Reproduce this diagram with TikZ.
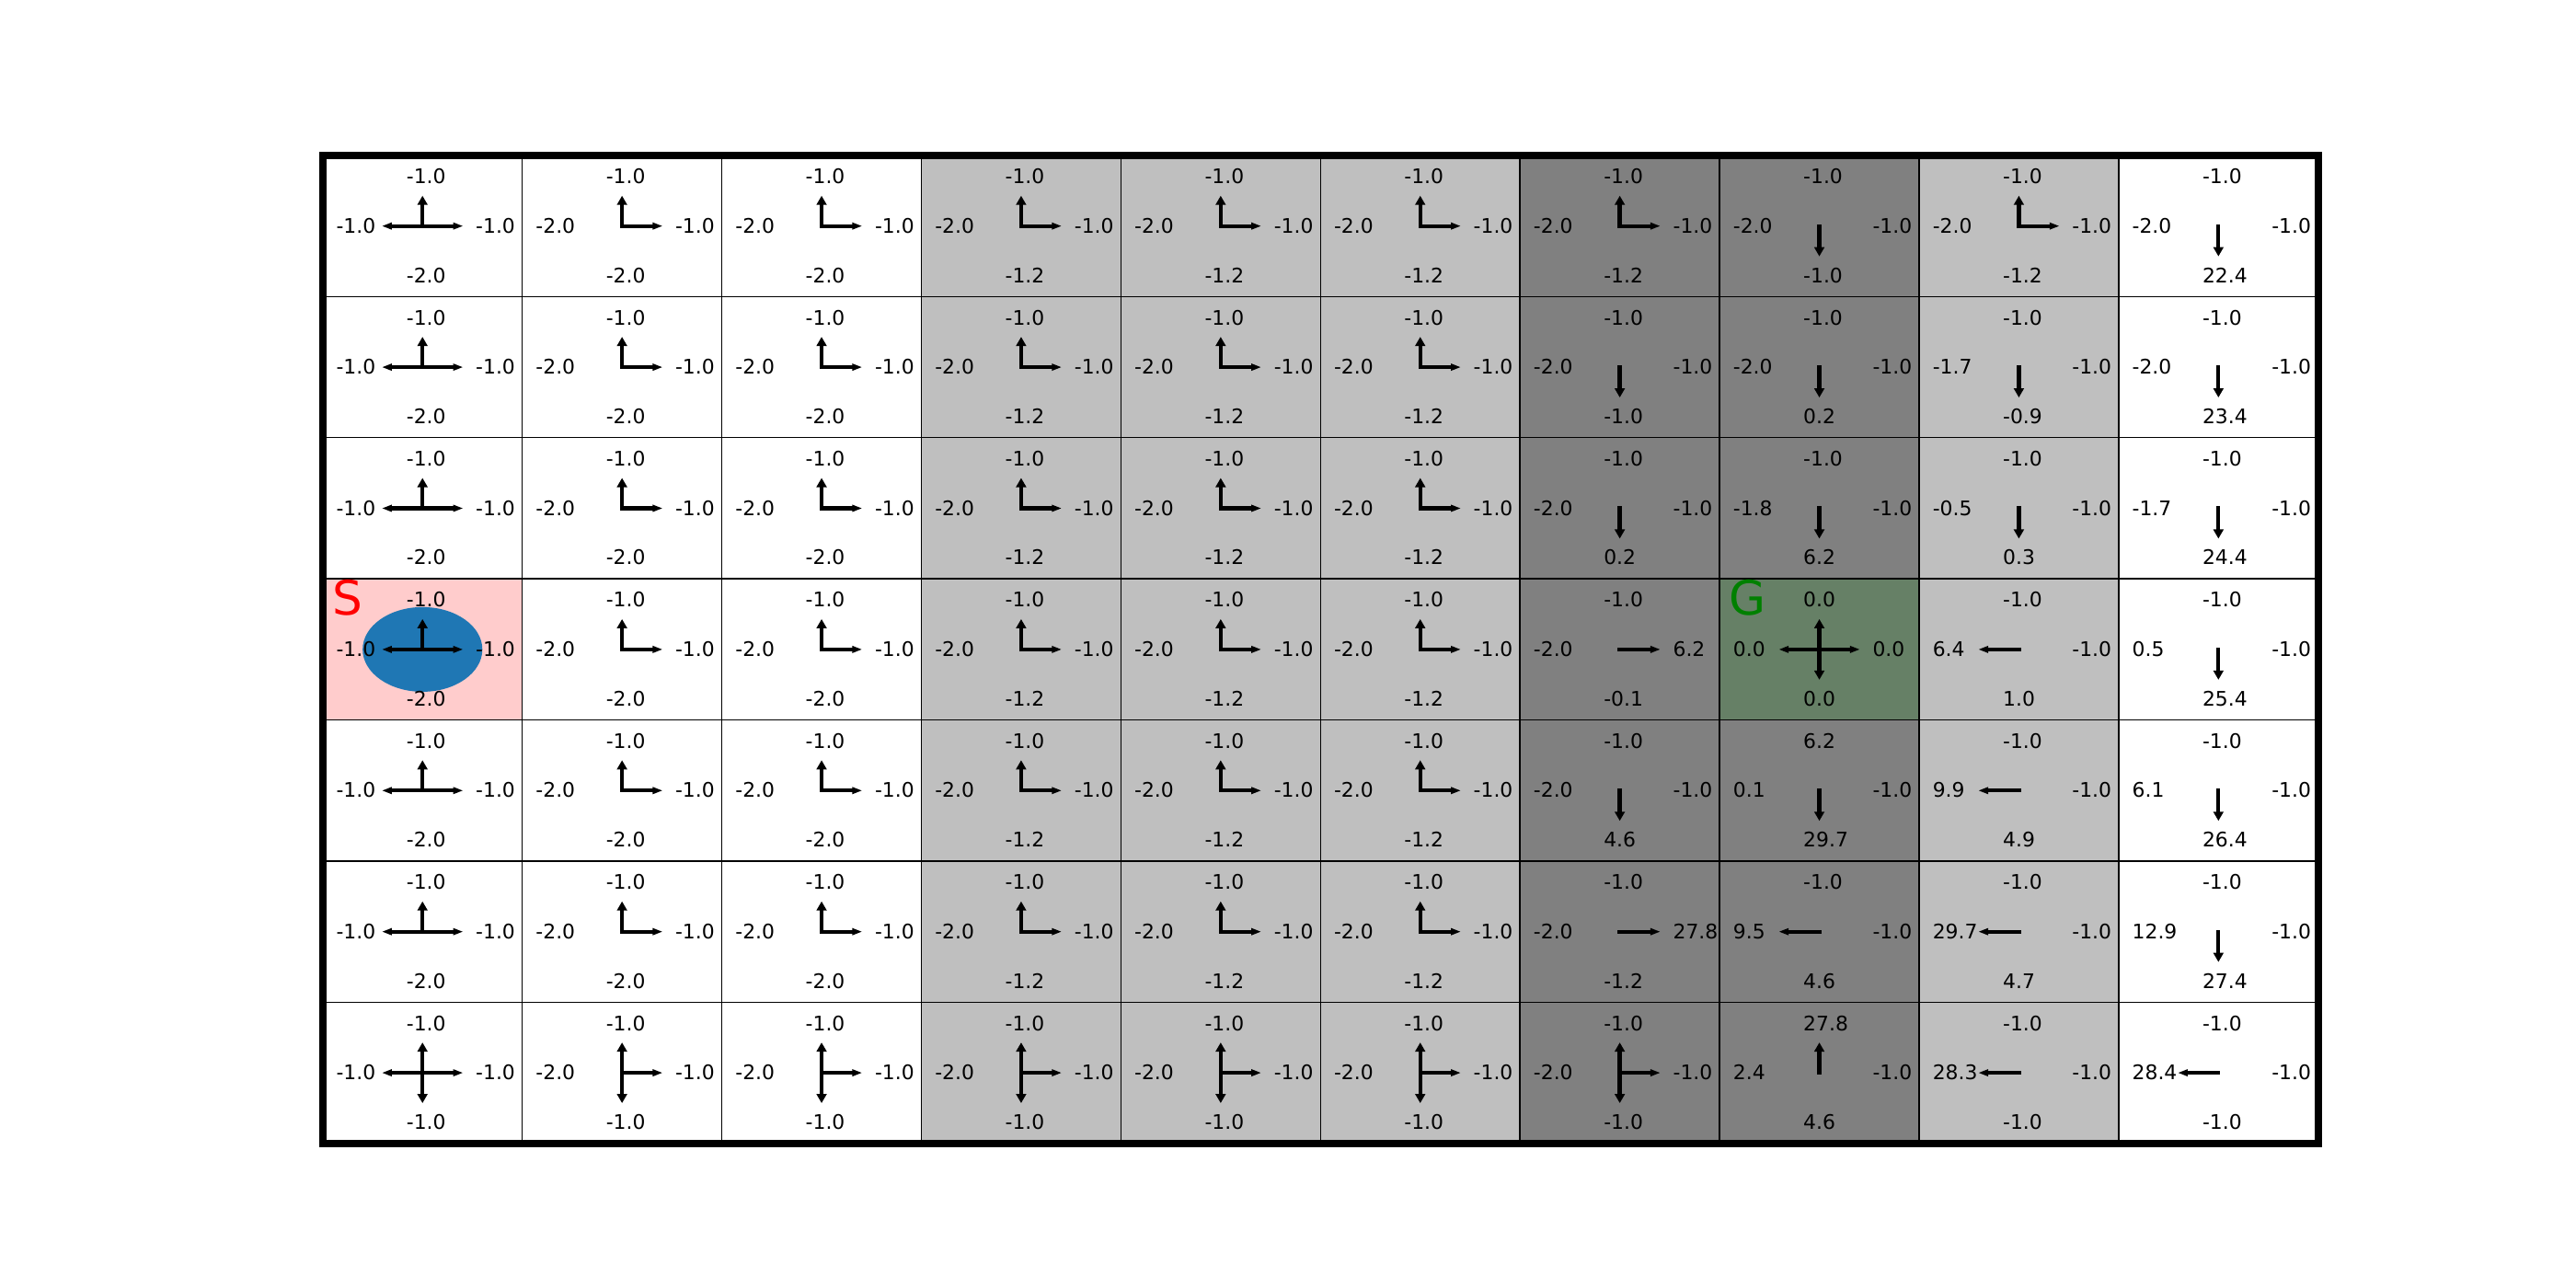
\documentclass[tikz,border=0pt]{standalone}
\usepackage{fontspec}
\setmainfont{DejaVu Sans}
\usepackage{tikz}
\usetikzlibrary{arrows.meta}
\definecolor{cellsilver}{RGB}{191,191,191}
\definecolor{cellgray}{RGB}{128,128,128}
\definecolor{startpink}{RGB}{255,204,204}
\definecolor{goalgreen}{RGB}{102,128,102}
\definecolor{agentblue}{RGB}{31,119,180}
\definecolor{labelgreen}{RGB}{0,128,0}
% one grid cell: row, col, up, left, right, down, arrows
\newcommand{\qcell}[7]{%
  \node[qval] (q-#1-#2-up) at (#2+0.417,#1+0.2) {#3};
  \node[qval] (q-#1-#2-left) at (#2+0.065,#1+0.55) {#4};
  \node[qval] (q-#1-#2-right) at (#2+0.764,#1+0.55) {#5};
  \node[qval] (q-#1-#2-down) at (#2+0.417,#1+0.9) {#6};
  \edef\qarrs{#7}%
  \foreach \qa in \qarrs {
    \if u\qa \draw[varrow] (#2+0.5,#1+0.5) -- ++(0,-0.215); \fi
    \if d\qa \draw[varrow] (#2+0.5,#1+0.5) -- ++(0,0.215); \fi
    \if l\qa \draw[harrow] (#2+0.5,#1+0.5) -- ++(-0.204,0); \fi
    \if r\qa \draw[harrow] (#2+0.5,#1+0.5) -- ++(0.204,0); \fi
  }}

\begin{document}
\begin{tikzpicture}[x=2.169cm, y=-1.534cm,
  qval/.style={anchor=base west, inner sep=0pt, font=\fontsize{6.22}{7}\selectfont},
  varrow/.style={line width=1.22pt, line cap=rect, -{Triangle[length=2.85pt, width=3.05pt]}},
  harrow/.style={line width=1.22pt, line cap=rect, -{Triangle[length=3.1pt, width=2pt]}},
  corner/.style={anchor=base west, inner sep=0pt, font=\fontsize{14.7}{16}\selectfont}]
  \path[use as bounding box] (-1.6173,-1.1017) rectangle (11.292,8.0248);
  % Column shading
  \fill[cellsilver] (3,0) rectangle (6,7);
  \fill[cellgray] (6,0) rectangle (8,7);
  \fill[cellsilver] (8,0) rectangle (9,7);
  % Start and goal cells
  \fill[startpink] (0,3) rectangle (1,4);
  \fill[goalgreen] (7,3) rectangle (8,4);
  % Grid
  \foreach \c in {1,...,9} \draw[line width=0.4pt] (\c,0) -- (\c,7);
  \foreach \r in {1,...,6} \draw[line width=0.4pt] (0,\r) -- (10,\r);
  \draw[line width=2.2pt] (0,0) rectangle (10,7);
  % Agent
  \fill[agentblue] (0.5,3.5) circle [radius=0.3];
  % Q-values, left block
  \foreach \r in {0,...,5} {
    \qcell{\r}{0}{-1.0}{-1.0}{-1.0}{-2.0}{u,l,r}
    \foreach \c in {1,2} {\qcell{\r}{\c}{-1.0}{-2.0}{-1.0}{-2.0}{u,r}}
    \foreach \c in {3,4,5} {\qcell{\r}{\c}{-1.0}{-2.0}{-1.0}{-1.2}{u,r}}
  }
  % Bottom row
  \qcell{6}{0}{-1.0}{-1.0}{-1.0}{-1.0}{u,d,l,r}
  \foreach \c in {1,...,6} {\qcell{6}{\c}{-1.0}{-2.0}{-1.0}{-1.0}{u,d,r}}
  % Q-values, right block
  \foreach \r/\c/\qu/\ql/\qr/\qd/\arr in {
    0/6/-1.0/-2.0/-1.0/-1.2/{u,r}, 0/7/-1.0/-2.0/-1.0/-1.0/d,
    0/8/-1.0/-2.0/-1.0/-1.2/{u,r}, 0/9/-1.0/-2.0/-1.0/22.4/d,
    1/6/-1.0/-2.0/-1.0/-1.0/d, 1/7/-1.0/-2.0/-1.0/0.2/d,
    1/8/-1.0/-1.7/-1.0/-0.9/d, 1/9/-1.0/-2.0/-1.0/23.4/d,
    2/6/-1.0/-2.0/-1.0/0.2/d, 2/7/-1.0/-1.8/-1.0/6.2/d,
    2/8/-1.0/-0.5/-1.0/0.3/d, 2/9/-1.0/-1.7/-1.0/24.4/d,
    3/6/-1.0/-2.0/6.2/-0.1/r, 3/7/0.0/0.0/0.0/0.0/{u,d,l,r},
    3/8/-1.0/6.4/-1.0/1.0/l, 3/9/-1.0/0.5/-1.0/25.4/d,
    4/6/-1.0/-2.0/-1.0/4.6/d, 4/7/6.2/0.1/-1.0/29.7/d,
    4/8/-1.0/9.9/-1.0/4.9/l, 4/9/-1.0/6.1/-1.0/26.4/d,
    5/6/-1.0/-2.0/27.8/-1.2/r, 5/7/-1.0/9.5/-1.0/4.6/l,
    5/8/-1.0/29.7/-1.0/4.7/l, 5/9/-1.0/12.9/-1.0/27.4/d,
    6/7/27.8/2.4/-1.0/4.6/u, 6/8/-1.0/28.3/-1.0/-1.0/l,
    6/9/-1.0/28.4/-1.0/-1.0/l}
    {\qcell{\r}{\c}{\qu}{\ql}{\qr}{\qd}{\arr}}
  % Start and goal letters
  \node[corner, text=red] (start) at (0.045,3.255) {S};
  \node[corner, text=labelgreen] (goal) at (7.045,3.255) {G};
\end{tikzpicture}
\end{document}
